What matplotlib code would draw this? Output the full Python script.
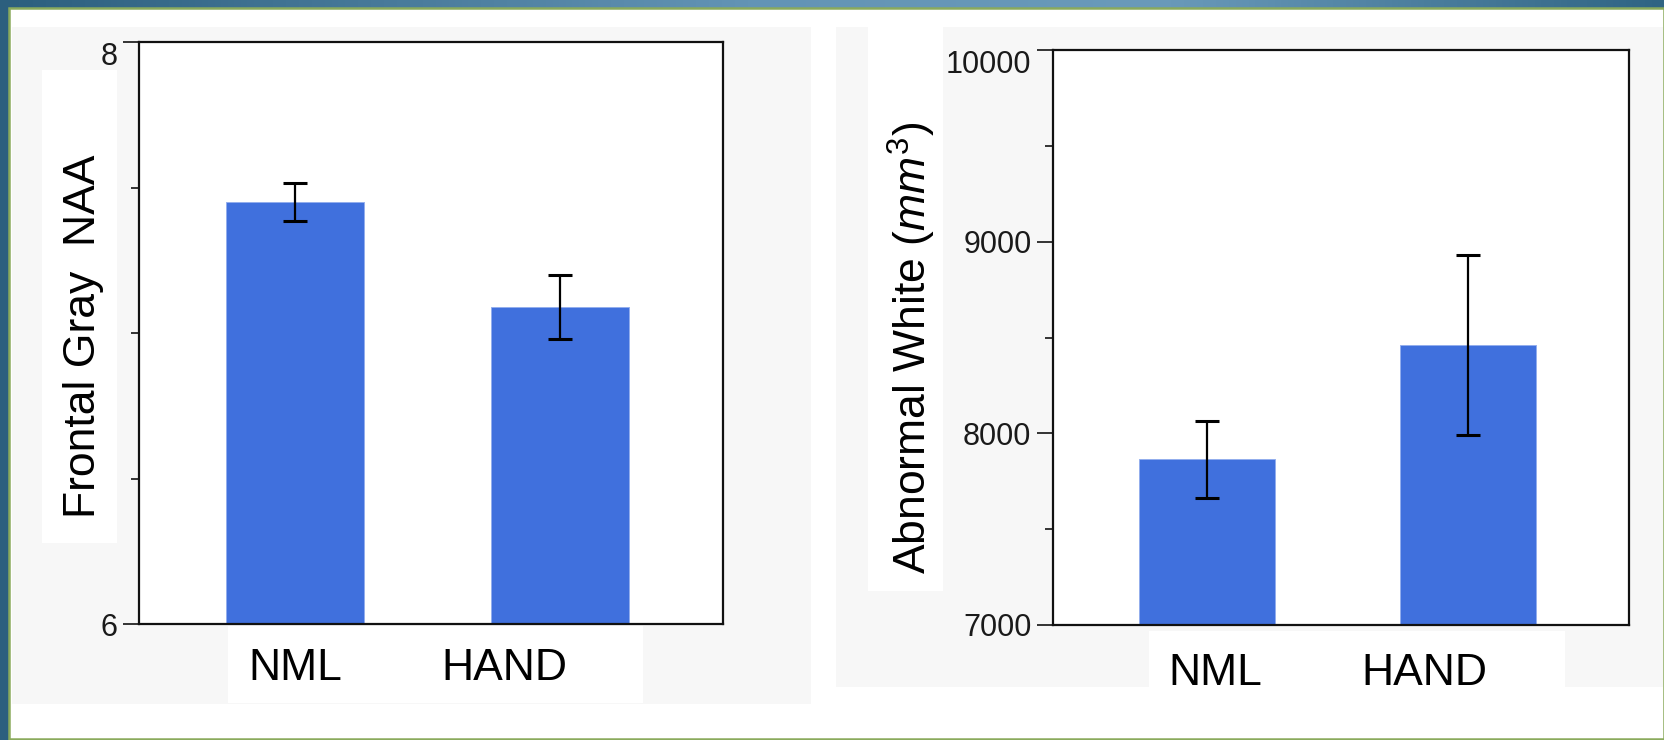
import numpy as np
import matplotlib
matplotlib.use("Agg")
import matplotlib.pyplot as plt
from matplotlib.patches import Rectangle
from matplotlib.colors import LinearSegmentedColormap

plt.rcParams['font.family'] = ['Liberation Sans', 'DejaVu Sans']
plt.rcParams['mathtext.fontset'] = 'custom'
plt.rcParams['mathtext.rm'] = 'Liberation Sans'
plt.rcParams['mathtext.it'] = 'Liberation Sans:italic'

groups = ['NML', 'HAND']

# frontal gray matter NAA
naa_mean = [7.45, 7.09]
naa_err = [0.066, 0.11]

# abnormal white matter volume (mm^3)
white_mean = [7865, 8460]
white_err = [200, 470]

W, H = 1665, 740
fig = plt.figure(figsize=(W / 100, H / 100), dpi=100)


def box(x0, y0, x1, y1):
    # pixel box with top-left origin -> figure fraction [left, bottom, w, h]
    return [x0 / W, 1 - y1 / H, (x1 - x0) / W, (y1 - y0) / H]


def rect(x0, y0, x1, y1, z, **kw):
    l, b, w, h = box(x0, y0, x1, y1)
    fig.add_artist(Rectangle((l, b), w, h, transform=fig.transFigure, zorder=z, **kw))


# slide frame: teal gradient behind a white page with a green rule
bg = fig.add_axes([0, 0, 1, 1], zorder=-10)
teal = LinearSegmentedColormap.from_list(
    'teal', [(0, '#2c5f7e'), (0.45, '#6394b5'), (0.7, '#6a9aba'), (1, '#2f6483')])
bg.imshow(np.linspace(0, 1, 256)[None, :], aspect='auto', cmap=teal, extent=[0, 1, 0, 1])
bg.set_xlim(0, 1)
bg.set_ylim(0, 1)
bg.axis('off')

rect(9.5, 8, 1664, 738.5, -6, facecolor='white', edgecolor='#8aaa5c', linewidth=1.8)

# light gray panels and white label boxes
rect(12, 27, 811, 704, -5, facecolor='#f7f7f7', edgecolor='none')
rect(836, 27, 1663, 687, -5, facecolor='#f7f7f7', edgecolor='none')
rect(42, 70, 117, 543, -4, facecolor='white', edgecolor='none')
rect(228, 626, 643, 703, -4, facecolor='white', edgecolor='none')
rect(868, 27, 943, 591, -4, facecolor='white', edgecolor='none')
rect(1149, 631, 1565, 687, -4, facecolor='white', edgecolor='none')

bar_color = '#4070dd'


def bar_panel(pix, means, errs, ylim, major, minor, label_pos, pad):
    ax = fig.add_axes(box(*pix))
    x = np.arange(len(groups))
    ax.bar(x, means, width=0.52, color=bar_color, edgecolor='#93aeee', linewidth=0.7)
    ax.errorbar(x, means, yerr=errs, fmt='none', ecolor='black',
                elinewidth=1.6, capsize=8.7, capthick=2.2)
    ax.set_xlim(-0.59, 1.615)
    ax.set_ylim(*ylim)
    ax.set_facecolor('white')

    ax.set_yticks(major)
    ax.set_yticks(minor, minor=True)
    ax.tick_params(axis='y', which='major', length=11.5, width=1.4, pad=4,
                   labelsize=22, color='#333333', labelcolor='#1a1a1a')
    ax.tick_params(axis='y', which='minor', length=6, width=1.4, color='#333333')
    ax.yaxis.get_major_ticks()[-1].label1.set_va('top')

    ax.set_xticks(label_pos, groups)
    ax.tick_params(axis='x', length=0, pad=pad, labelsize=32, labelcolor='black')

    for s in ax.spines.values():
        s.set_linewidth(1.6)
        s.set_color('#111111')
    return ax


bar_panel((139, 42, 723, 624), naa_mean, naa_err, (6, 8),
          [6, 8], [6.5, 7, 7.5], [0.0, 0.79], 17)
bar_panel((1053, 50, 1629, 625), white_mean, white_err, (7000, 10000),
          [7000, 8000, 9000, 10000], [7500, 8500, 9500], [0.03, 0.83], 20)

fig.text(84 / W, 1 - 336 / H, 'Frontal Gray  NAA', rotation=90,
         ha='center', va='center', fontsize=32)
fig.text(912 / W, 1 - 348 / H, r'Abnormal White $\mathit{(mm}^{3}\mathit{)}$',
         rotation=90, ha='center', va='center', fontsize=32)

fig.savefig('out.png', dpi=100)
